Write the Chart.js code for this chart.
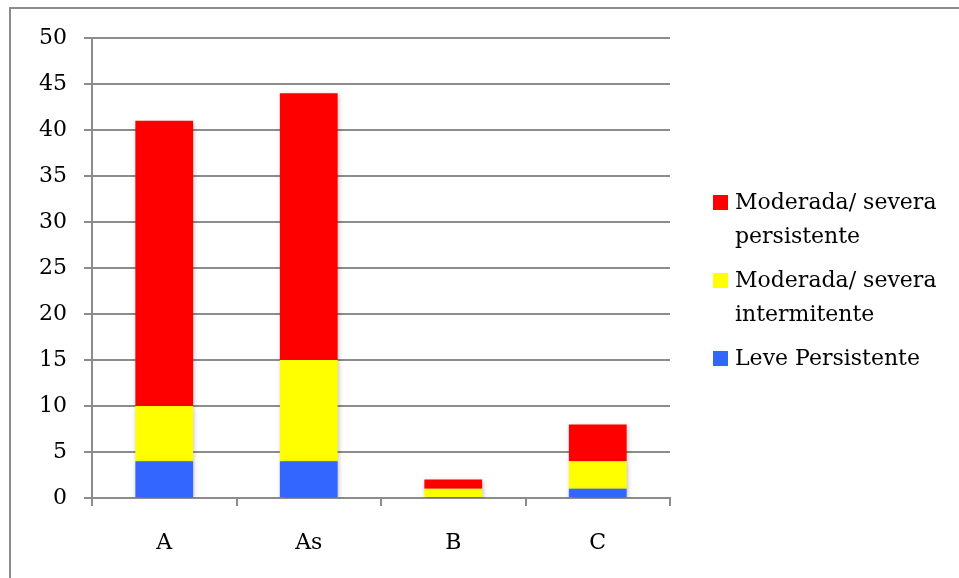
<!DOCTYPE html>
<html>
<head>
<meta charset="utf-8">
<script src="https://cdn.jsdelivr.net/npm/chart.js@4/dist/chart.umd.min.js"></script>
<style>
  html, body { margin: 0; padding: 0; background: #fff; }
  #wrap { position: relative; width: 959px; height: 578px; overflow: hidden; }
  #frame { position: absolute; left: 9px; top: 7px; width: 1000px; height: 1000px;
           border-left: 2px solid #8c8c8c; border-top: 2px solid #8c8c8c; box-sizing: border-box; }
  canvas { position: absolute; left: 0; top: 0; }
  #legend { position: absolute; left: 713px; top: 185px; font-family: "DejaVu Serif", serif;
            font-size: 22px; color: #000; line-height: 34px; }
  .item { position: relative; padding-left: 22px; margin-bottom: 10px; }
  .sw { position: absolute; left: 0; top: 10px; width: 15px; height: 15px; }
</style>
</head>
<body>
<div id="wrap">
  <div id="frame"></div>
  <canvas id="c" width="959" height="578"></canvas>
  <div id="legend"></div>
</div>
<script>
const categories = ['A', 'As', 'B', 'C'];
const leve = [4, 4, 0, 1];
const modSevInter = [6, 11, 1, 3];
const modSevPers = [31, 29, 1, 4];
const yTicks = [0, 5, 10, 15, 20, 25, 30, 35, 40, 45, 50];

const seriesNames = ['Leve Persistente', ['Moderada/ severa', 'intermitente'], ['Moderada/ severa', 'persistente']];
const seriesColors = ['#3366ff', '#ffff00', '#ff0000'];

const axisGray = '#8c8c8c';
const font = { family: '"DejaVu Serif", serif', size: 22 };

// Soft drop shadow under the bar segments
const barShadow = {
  id: 'barShadow',
  beforeDatasetsDraw(chart) {
    const ctx = chart.ctx;
    ctx.save();
    ctx.shadowColor = 'rgba(0,0,0,0.28)';
    ctx.shadowBlur = 5;
    ctx.shadowOffsetX = 1;
    ctx.shadowOffsetY = 2;
  },
  afterDatasetsDraw(chart) { chart.ctx.restore(); }
};

new Chart(document.getElementById('c'), {
  type: 'bar',
  data: {
    labels: categories,
    datasets: [
      { label: 'Leve Persistente', data: leve, backgroundColor: seriesColors[0] },
      { label: 'Moderada/ severa intermitente', data: modSevInter, backgroundColor: seriesColors[1] },
      { label: 'Moderada/ severa persistente', data: modSevPers, backgroundColor: seriesColors[2] }
    ]
  },
  plugins: [barShadow],
  options: {
    responsive: false,
    animation: false,
    layout: { padding: { left: 10, right: 289, top: 38, bottom: 0 } },
    datasets: { bar: { categoryPercentage: 1, barPercentage: 0.4, borderWidth: 0 } },
    plugins: { legend: { display: false }, tooltip: { enabled: false } },
    scales: {
      x: {
        stacked: true,
        grid: { offset: true, drawOnChartArea: false, drawTicks: true, tickLength: 8, color: axisGray, lineWidth: 2 },
        border: { color: axisGray, width: 2 },
        ticks: { color: '#000', font: font, padding: 24 },
        afterFit(scale) { scale.height = 80; }
      },
      y: {
        stacked: true,
        min: 0, max: 50,
        afterBuildTicks(scale) { scale.ticks = yTicks.map(v => ({ value: v })); },
        grid: { color: axisGray, lineWidth: 2, tickLength: 8 },
        border: { color: axisGray, width: 2 },
        ticks: { color: '#000', font: font, padding: 17 },
        afterFit(scale) { scale.width = 82; }
      }
    }
  }
});

// Legend, listed top to bottom in reverse stacking order
const legend = document.getElementById('legend');
for (let i = seriesNames.length - 1; i >= 0; i--) {
  const item = document.createElement('div');
  item.className = 'item';
  const sw = document.createElement('span');
  sw.className = 'sw';
  sw.style.background = seriesColors[i];
  item.appendChild(sw);
  const lines = Array.isArray(seriesNames[i]) ? seriesNames[i] : [seriesNames[i]];
  lines.forEach(t => { const d = document.createElement('div'); d.textContent = t; item.appendChild(d); });
  legend.appendChild(item);
}
</script>
</body>
</html>
